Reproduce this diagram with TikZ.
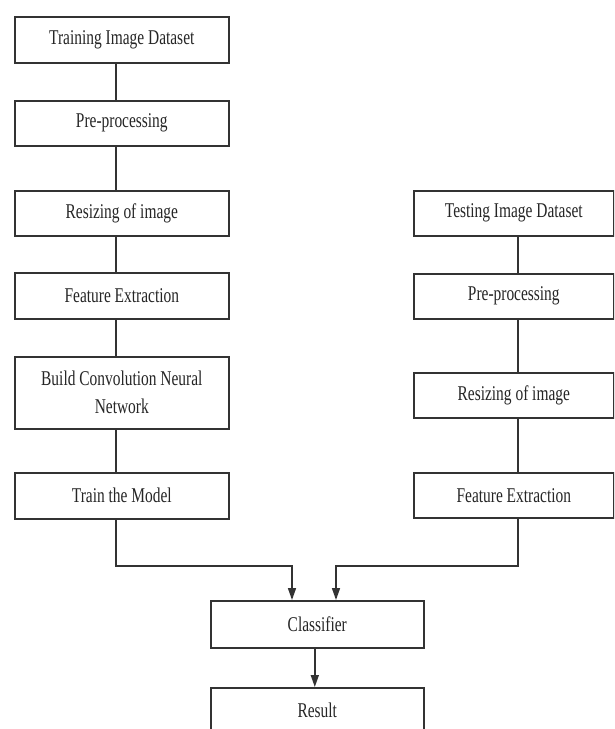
\documentclass[tikz,border=0pt]{standalone}
\usepackage{fontspec}
\setmainfont{Liberation Serif}[FakeStretch=0.735]
\usetikzlibrary{arrows.meta}
\begin{document}
\begin{tikzpicture}[x=1pt,y=-1pt,
  box/.style={draw=black!80, line width=1.6pt, fill=white, inner sep=0pt,
    anchor=north west, minimum height=46pt, align=center, text=black!85,
    font=\fontsize{21}{28}\selectfont},
  lbox/.style={box, minimum width=214pt},
  rbox/.style={box, minimum width=200pt},
  cbox/.style={box, minimum width=213pt},
  link/.style={draw=black!80, line width=1.6pt},
  arr/.style={link, -{Triangle[length=12pt,width=8pt]}}]
\useasboundingbox (0,0) rectangle (614,729);
\clip (0,0) rectangle (614,729);
\fill[white] (0,0) rectangle (614,729);
% left column
\node[lbox] (t1) at (14,16) {Training Image Dataset};
\node[lbox, minimum height=45pt] (t2) at (14,100) {Pre-processing};
\node[lbox, minimum height=45pt] (t3) at (14,190) {Resizing of image};
\node[lbox] (t4) at (14,272) {Feature Extraction};
\node[lbox, minimum height=72pt] (t5) at (14,356) {Build Convolution Neural\\Network};
\node[lbox] (t6) at (14,472) {Train the Model};
% right column
\node[rbox, minimum height=45pt] (s1) at (413,190) {Testing Image Dataset};
\node[rbox, minimum height=45pt] (s2) at (413,273) {Pre-processing};
\node[rbox, minimum height=45pt] (s3) at (413,372) {Resizing of image};
\node[rbox, minimum height=45pt] (s4) at (413,472) {Feature Extraction};
% bottom
\node[cbox, minimum height=47pt] (c) at (210,600) {Classifier};
\node[cbox] (r) at (210,687) {Result};
% connectors
\foreach \a/\b in {t1/t2,t2/t3,t3/t4,t4/t5,t5/t6}
  \draw[link] ([xshift=-6pt]\a.south) -- ([xshift=-6pt]\b.north);
\foreach \a/\b in {s1/s2,s2/s3,s3/s4}
  \draw[link] ([xshift=4pt]\a.south) -- ([xshift=4pt]\b.north);
\coordinate (jl) at (292,566);
\coordinate (jr) at (336,566);
\draw[arr] ([xshift=-6pt]t6.south) |- (jl) -- (jl |- c.north);
\draw[arr] ([xshift=4pt]s4.south) |- (jr) -- (jr |- c.north);
\draw[arr] ([xshift=-2.5pt]c.south) -- ([xshift=-2.5pt]r.north);
\end{tikzpicture}
\end{document}
